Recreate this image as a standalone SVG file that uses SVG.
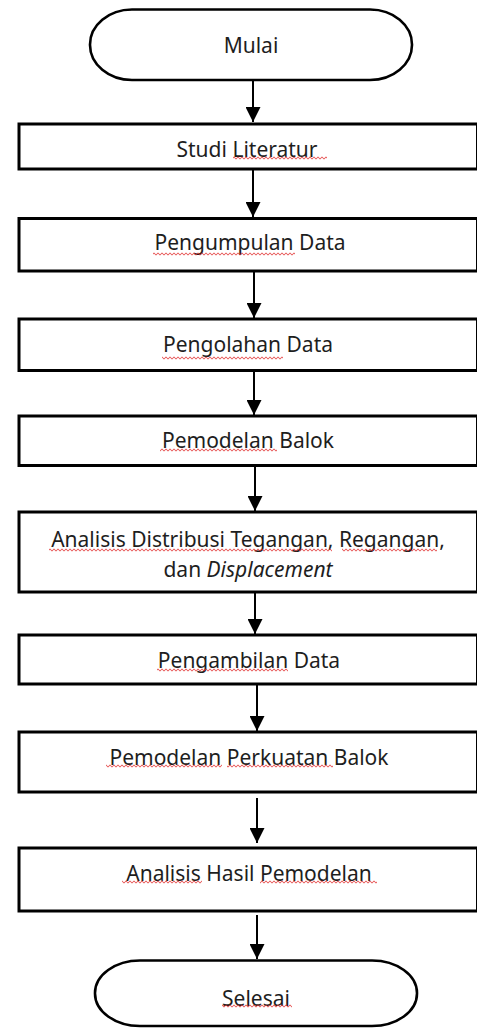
<svg xmlns="http://www.w3.org/2000/svg" width="477" height="1028" viewBox="0 0 477 1028">
<style>
.box{fill:#fff;stroke:#000;stroke-width:3}
.term{fill:#fff;stroke:#000;stroke-width:2.6}
.lbl{font-family:"Noto Sans","Open Sans",sans-serif;font-size:21px;fill:#1e1e1e;text-anchor:middle}
.edge{stroke:#000;stroke-width:2;fill:none;marker-end:url(#ah)}
.sq{fill:url(#wave)}
</style>
<defs>
<marker id="ah" viewBox="0 0 15 15" refX="15" refY="7.5" markerWidth="15" markerHeight="15" markerUnits="userSpaceOnUse" orient="auto">
<path d="M0,0 L15,7.5 L0,15 z" fill="#000"/>
</marker>
<pattern id="wave" width="4" height="4" patternUnits="userSpaceOnUse">
<path d="M0,3 C1,3 1,1 2,1 C3,1 3,3 4,3" fill="none" stroke="#e02828" stroke-width="0.9"/>
</pattern>
</defs>
<rect width="477" height="1028" fill="#fff"/>
<g id="connectors">
<line class="edge" x1="253" y1="80" x2="253" y2="122"/>
<line class="edge" x1="253" y1="169" x2="253" y2="217"/>
<line class="edge" x1="254" y1="271" x2="254" y2="318"/>
<line class="edge" x1="254" y1="371" x2="254" y2="415"/>
<line class="edge" x1="255" y1="466" x2="255" y2="511"/>
<line class="edge" x1="255" y1="592" x2="255" y2="634"/>
<line class="edge" x1="257" y1="685" x2="257" y2="731"/>
<line class="edge" x1="257" y1="798" x2="257" y2="843"/>
<line class="edge" x1="257" y1="915" x2="257" y2="959"/>
</g>
<g id="mulai">
<rect class="term" x="90" y="9.5" width="322" height="70.5" rx="42" ry="35"/>
<text class="lbl" x="251" y="53">Mulai</text>
</g>
<g id="studi-literatur">
<rect class="box" x="19" y="124" width="458.5" height="45"/>
<text class="lbl" x="247" y="157">Studi Literatur</text>
<rect class="sq" x="233" y="156" width="94" height="4"/>
</g>
<g id="pengumpulan-data">
<rect class="box" x="19" y="218.5" width="458.5" height="52.5"/>
<text class="lbl" x="250" y="250">Pengumpulan Data</text>
<rect class="sq" x="153" y="252" width="142" height="4"/>
</g>
<g id="pengolahan-data">
<rect class="box" x="19" y="319" width="458.5" height="51.5"/>
<text class="lbl" x="248" y="352">Pengolahan Data</text>
<rect class="sq" x="162" y="356" width="121" height="4"/>
</g>
<g id="pemodelan-balok">
<rect class="box" x="19" y="416" width="458.5" height="49.5"/>
<text class="lbl" x="248" y="448">Pemodelan Balok</text>
<rect class="sq" x="160" y="448" width="117" height="4"/>
</g>
<g id="analisis-distribusi">
<rect class="box" x="19" y="512" width="458.5" height="80"/>
<text class="lbl" x="248" y="547">Analisis Distribusi Tegangan, Regangan,</text>
<text class="lbl" x="248" y="577">dan <tspan font-style="italic">Displacement</tspan></text>
<rect class="sq" x="49" y="548" width="283" height="4"/>
<rect class="sq" x="342" y="548" width="95" height="4"/>
</g>
<g id="pengambilan-data">
<rect class="box" x="19" y="635" width="458.5" height="49"/>
<text class="lbl" x="249" y="668">Pengambilan Data</text>
<rect class="sq" x="157" y="668" width="131" height="4"/>
</g>
<g id="pemodelan-perkuatan">
<rect class="box" x="19" y="732" width="458.5" height="60"/>
<text class="lbl" x="249" y="765">Pemodelan Perkuatan Balok</text>
<rect class="sq" x="106" y="764" width="116" height="4"/>
<rect class="sq" x="227" y="764" width="106" height="4"/>
</g>
<g id="analisis-hasil">
<rect class="box" x="19" y="848" width="458.5" height="63"/>
<text class="lbl" x="249" y="881">Analisis Hasil Pemodelan</text>
<rect class="sq" x="122" y="880" width="80" height="4"/>
<rect class="sq" x="260" y="880" width="117" height="4"/>
</g>
<g id="selesai">
<rect class="term" x="95" y="960.5" width="322" height="65.5" rx="45" ry="32.5"/>
<text class="lbl" x="256" y="1006">Selesai</text>
<rect class="sq" x="222" y="1004" width="70" height="4"/>
</g>
</svg>
